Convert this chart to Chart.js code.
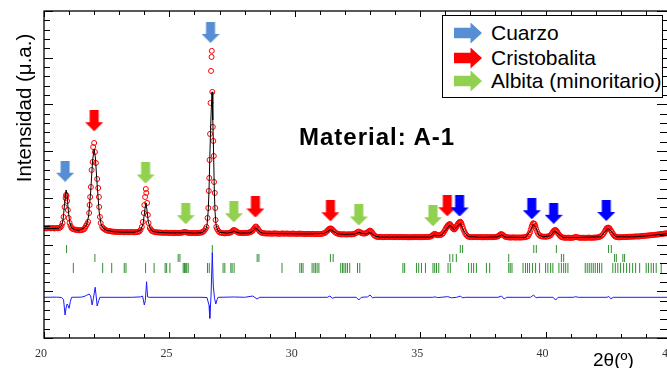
<!DOCTYPE html>
<html>
<head>
<meta charset="utf-8">
<title>Material A-1</title>
<script src="https://cdn.jsdelivr.net/npm/chart.js@4"></script>
<style>
  body { margin: 0; background: #fff; }
  #wrap { position: relative; width: 667px; height: 368px; overflow: hidden; background: #fff; }
  #xrd { position: absolute; left: 0; top: 0; }
  .txt { position: absolute; font-family: "Liberation Sans", Arial, sans-serif; color: #000; white-space: nowrap; }
  .ytitle { left: -56px; top: 96px; width: 160px; height: 24px; line-height: 24px; font-size: 20.5px; text-align: center; transform: rotate(-90deg); }
  .material { left: 299px; top: 125px; font-size: 24px; line-height: 24px; font-weight: bold; letter-spacing: 1px; }
  .xtitle { left: 593px; top: 350px; font-size: 19px; line-height: 19px; }
  .legend { position: absolute; left: 442px; top: 15px; width: 219px; height: 81px; border: 1px solid #000; background: #fff; }
  .row { position: absolute; left: 11px; height: 24px; line-height: 24px; font-size: 21px; }
  .arr { position: absolute; left: 0; top: 1.5px; width: 28px; height: 21px;
         clip-path: polygon(0 25%, 59% 25%, 59% 0, 100% 50%, 59% 100%, 59% 75%, 0 75%); }
  .lab { position: absolute; left: 37px; top: 0; }
</style>
</head>
<body>
<div id="wrap">
  <canvas id="xrd" width="672" height="368" style="width:672px;height:368px"></canvas>
  <div class="txt ytitle">Intensidad (μ.a.)</div>
  <div class="txt material">Material: A-1</div>
  <div class="txt xtitle">2θ(º)</div>
  <div class="legend">
    <div class="txt row" style="top:5px"><span class="arr" style="background:#558ed5"></span><span class="lab">Cuarzo</span></div>
    <div class="txt row" style="top:30px"><span class="arr" style="background:#ff0000"></span><span class="lab">Cristobalita</span></div>
    <div class="txt row" style="top:53px"><span class="arr" style="background:#92d050"></span><span class="lab">Albita (minoritario)</span></div>
  </div>
</div>
<script>
// ===============================
// Data (2theta in degrees, intensity in arbitrary counts)
// ===============================
const xLabels = [20, 25, 30, 35, 40, 45];

// observed pattern (red circles)
const observed = [
  [20.0,2355],[20.05,2350],[20.1,2345],[20.15,2352],[20.2,2360],[20.25,2348],[20.3,2350],[20.35,2355],[20.4,2345],[20.45,2350],
  [20.5,2355],[20.55,2348],[20.6,2355],[20.65,2366],[20.7,2398],[20.74,2462],[20.78,2591],[20.82,2805],[20.86,2997],[20.88,3062],
  [20.9,3040],[20.92,2933],[20.95,2740],[20.98,2569],[21.02,2462],[21.06,2398],[21.1,2355],[21.15,2334],[21.2,2323],[21.25,2318],
  [21.3,2315],[21.35,2310],[21.4,2305],[21.45,2308],[21.5,2310],[21.55,2318],[21.6,2330],[21.64,2360],[21.67,2398],[21.72,2441],
  [21.76,2485],[21.8,2676],[21.82,2848],[21.84,3019],[21.87,3233],[21.9,3597],[21.94,3768],[21.96,4089],[22.0,4175],[22.03,3982],
  [22.07,3747],[22.12,3404],[22.16,3211],[22.19,3019],[22.2,2805],[22.23,2591],[22.26,2462],[22.32,2377],[22.36,2350],[22.4,2334],
  [22.45,2315],[22.5,2302],[22.55,2295],[22.6,2291],[22.65,2285],[22.7,2280],[22.75,2278],[22.8,2275],[22.85,2272],[22.9,2270],
  [22.95,2268],[23.0,2265],[23.05,2270],[23.1,2272],[23.15,2265],[23.2,2262],[23.25,2268],[23.3,2270],[23.35,2262],[23.4,2265],
  [23.45,2270],[23.5,2268],[23.55,2265],[23.6,2262],[23.65,2268],[23.7,2270],[23.75,2272],[23.8,2280],[23.85,2312],[23.9,2377],
  [23.94,2484],[23.98,2676],[24.0,2848],[24.03,3019],[24.06,3190],[24.08,3105],[24.11,2891],[24.14,2634],[24.17,2462],[24.22,2355],
  [24.26,2320],[24.3,2291],[24.35,2280],[24.4,2270],[24.45,2265],[24.5,2262],[24.55,2260],[24.6,2258],[24.65,2256],[24.7,2255],
  [24.75,2252],[24.8,2250],[24.85,2255],[24.9,2255],[24.95,2250],[25.0,2248],[25.05,2250],[25.1,2252],[25.15,2248],[25.2,2245],
  [25.25,2252],[25.3,2250],[25.35,2246],[25.4,2248],[25.45,2252],[25.5,2255],[25.55,2262],[25.6,2270],[25.65,2265],[25.7,2258],
  [25.75,2252],[25.8,2248],[25.85,2246],[25.9,2245],[25.95,2250],[26.0,2250],[26.05,2248],[26.1,2245],[26.15,2250],[26.2,2250],
  [26.25,2255],[26.3,2262],[26.34,2275],[26.38,2291],[26.44,2334],[26.48,2377],[26.52,2570],[26.55,2783],[26.57,3148],[26.59,3426],
  [26.6,3811],[26.62,4368],[26.64,5032],[26.66,5717],[26.68,6016],[26.69,6146],[26.71,5268],[26.73,4518],[26.75,4218],[26.77,3897],
  [26.78,3340],[26.81,3105],[26.83,2783],[26.84,2526],[26.87,2377],[26.9,2334],[26.95,2291],[27.0,2262],[27.05,2255],[27.1,2248],
  [27.15,2244],[27.2,2240],[27.25,2242],[27.3,2245],[27.35,2248],[27.4,2250],[27.45,2262],[27.5,2280],[27.53,2300],[27.57,2312],
  [27.61,2305],[27.65,2290],[27.7,2270],[27.75,2255],[27.8,2250],[27.85,2248],[27.9,2246],[27.95,2245],[28.0,2248],[28.05,2250],
  [28.1,2252],[28.15,2255],[28.2,2262],[28.25,2270],[28.29,2285],[28.32,2300],[28.35,2322],[28.38,2345],[28.42,2375],[28.45,2388],
  [28.48,2372],[28.52,2345],[28.56,2312],[28.6,2280],[28.65,2260],[28.7,2248],[28.75,2244],[28.8,2240],[28.85,2238],[28.9,2235],
  [28.95,2236],[29.0,2238],[29.05,2235],[29.1,2232],[29.15,2238],[29.2,2240],[29.25,2236],[29.3,2235],[29.35,2232],[29.4,2230],
  [29.45,2235],[29.5,2238],[29.55,2234],[29.6,2232],[29.65,2235],[29.7,2236],[29.75,2232],[29.8,2230],[29.85,2233],[29.9,2235],
  [29.95,2234],[30.0,2232],[30.05,2230],[30.1,2228],[30.15,2232],[30.2,2235],[30.25,2232],[30.3,2230],[30.35,2228],[30.4,2225],
  [30.45,2228],[30.5,2230],[30.55,2228],[30.6,2226],[30.65,2228],[30.7,2230],[30.75,2227],[30.8,2225],[30.85,2226],[30.9,2228],
  [30.95,2226],[31.0,2225],[31.05,2228],[31.1,2232],[31.15,2240],[31.2,2250],[31.25,2270],[31.3,2295],[31.33,2315],[31.36,2330],
  [31.39,2340],[31.42,2345],[31.45,2340],[31.48,2330],[31.52,2310],[31.55,2290],[31.6,2268],[31.65,2245],[31.7,2235],[31.75,2225],
  [31.8,2220],[31.85,2218],[31.9,2220],[31.95,2222],[32.0,2218],[32.05,2215],[32.1,2218],[32.15,2220],[32.2,2219],[32.25,2218],
  [32.3,2222],[32.35,2225],[32.4,2235],[32.45,2250],[32.5,2268],[32.55,2280],[32.6,2265],[32.65,2250],[32.7,2240],[32.75,2235],
  [32.8,2238],[32.85,2245],[32.89,2260],[32.93,2275],[32.97,2290],[33.0,2300],[33.03,2290],[33.07,2270],[33.11,2240],[33.15,2205],
  [33.2,2185],[33.25,2170],[33.3,2163],[33.35,2160],[33.4,2162],[33.45,2165],[33.5,2160],[33.55,2158],[33.6,2160],[33.65,2163],
  [33.7,2162],[33.75,2160],[33.8,2162],[33.85,2165],[33.9,2160],[33.95,2158],[34.0,2160],[34.05,2162],[34.1,2160],[34.15,2158],
  [34.2,2160],[34.25,2163],[34.3,2160],[34.35,2158],[34.4,2159],[34.45,2160],[34.5,2158],[34.55,2155],[34.6,2158],[34.65,2160],
  [34.7,2159],[34.75,2158],[34.8,2160],[34.85,2162],[34.9,2160],[34.95,2157],[35.0,2158],[35.05,2160],[35.1,2159],[35.15,2158],
  [35.2,2160],[35.25,2163],[35.3,2164],[35.35,2165],[35.4,2170],[35.45,2180],[35.49,2195],[35.52,2210],[35.55,2222],[35.58,2230],
  [35.62,2220],[35.65,2205],[35.7,2200],[35.75,2200],[35.8,2205],[35.85,2215],[35.89,2232],[35.92,2250],[35.96,2285],[36.0,2320],
  [36.03,2350],[36.06,2380],[36.09,2400],[36.12,2420],[36.15,2432],[36.18,2440],[36.21,2420],[36.24,2400],[36.27,2370],[36.3,2345],
  [36.33,2330],[36.36,2325],[36.39,2340],[36.42,2360],[36.45,2390],[36.48,2420],[36.51,2445],[36.54,2465],[36.57,2480],[36.6,2490],
  [36.63,2465],[36.66,2430],[36.69,2380],[36.72,2330],[36.76,2280],[36.8,2230],[36.85,2200],[36.9,2175],[36.95,2165],[37.0,2160],
  [37.05,2159],[37.1,2158],[37.15,2160],[37.2,2162],[37.25,2160],[37.3,2158],[37.35,2159],[37.4,2160],[37.45,2158],[37.5,2155],
  [37.55,2158],[37.6,2160],[37.65,2158],[37.7,2157],[37.75,2158],[37.8,2160],[37.85,2159],[37.9,2158],[37.95,2160],[38.0,2163],
  [38.05,2168],[38.1,2175],[38.14,2192],[38.18,2210],[38.21,2220],[38.24,2225],[38.28,2212],[38.32,2195],[38.36,2180],[38.4,2165],
  [38.45,2160],[38.5,2155],[38.55,2152],[38.6,2150],[38.65,2152],[38.7,2155],[38.75,2152],[38.8,2150],[38.85,2151],[38.9,2153],
  [38.95,2151],[39.0,2150],[39.05,2152],[39.1,2155],[39.15,2157],[39.2,2160],[39.25,2168],[39.3,2180],[39.34,2220],[39.38,2260],
  [39.41,2320],[39.44,2380],[39.47,2420],[39.5,2456],[39.53,2452],[39.56,2440],[39.59,2395],[39.62,2340],[39.66,2280],[39.7,2230],
  [39.75,2200],[39.8,2180],[39.85,2175],[39.9,2170],[39.95,2169],[40.0,2168],[40.05,2170],[40.1,2175],[40.15,2185],[40.2,2200],
  [40.24,2230],[40.28,2260],[40.31,2282],[40.34,2300],[40.37,2308],[40.4,2312],[40.43,2295],[40.46,2275],[40.5,2240],[40.54,2210],
  [40.58,2185],[40.62,2165],[40.66,2157],[40.7,2150],[40.75,2147],[40.8,2145],[40.85,2146],[40.9,2148],[40.95,2145],[41.0,2142],
  [41.05,2145],[41.1,2148],[41.15,2155],[41.2,2165],[41.25,2158],[41.3,2150],[41.35,2148],[41.4,2145],[41.45,2146],[41.5,2148],
  [41.55,2145],[41.6,2143],[41.65,2146],[41.7,2150],[41.75,2148],[41.8,2145],[41.85,2146],[41.9,2148],[41.95,2149],[42.0,2150],
  [42.05,2154],[42.1,2158],[42.15,2165],[42.2,2175],[42.25,2198],[42.3,2225],[42.34,2262],[42.38,2300],[42.41,2328],[42.44,2350],
  [42.47,2358],[42.5,2362],[42.53,2352],[42.56,2340],[42.6,2305],[42.64,2270],[42.68,2235],[42.72,2200],[42.76,2180],[42.8,2165],
  [42.85,2160],[42.9,2155],[42.95,2156],[43.0,2158],[43.05,2159],[43.1,2160],[43.15,2161],[43.2,2162],[43.25,2163],[43.3,2165],
  [43.35,2166],[43.4,2168],[43.45,2169],[43.5,2170],[43.55,2172],[43.6,2175],[43.65,2174],[43.7,2172],[43.75,2176],[43.8,2180],
  [43.85,2182],[43.9,2185],[43.95,2188],[44.0,2190],[44.05,2192],[44.1,2195],[44.15,2198],[44.2,2200],[44.25,2202],[44.3,2205],
  [44.35,2208],[44.4,2212],[44.45,2215],[44.5,2218],[44.55,2222],[44.6,2225],[44.65,2228],[44.7,2232],[44.75,2236],[44.8,2240],
  [44.85,2242],[44.9,2245],[44.95,2248],[45.0,2250]
];

// calculated pattern (black line)
const calculated = [
  [20.0,2345],[20.5,2345],[20.6,2350],[20.7,2398],[20.76,2526],[20.82,2869],[20.88,3169],[20.92,3083],[20.96,2783],[21.02,2484],
  [21.1,2355],[21.2,2323],[21.4,2305],[21.6,2355],[21.7,2419],[21.78,2612],[21.86,3126],[21.94,3811],[22.0,4047],[22.05,3854],
  [22.12,3276],[22.2,2698],[22.28,2419],[22.4,2334],[22.5,2302],[22.8,2275],[23.2,2265],[23.6,2265],[23.85,2302],[23.95,2441],
  [24.02,2741],[24.06,2891],[24.1,2762],[24.16,2484],[24.25,2323],[24.35,2280],[24.6,2258],[25.0,2250],[25.5,2250],[25.6,2262],
  [25.7,2252],[26.0,2245],[26.3,2255],[26.4,2291],[26.46,2334],[26.5,2419],[26.55,2741],[26.58,3169],[26.62,4026],[26.66,4774],
  [26.7,5268],[26.73,4668],[26.76,4026],[26.79,3169],[26.82,2698],[26.86,2419],[26.92,2312],[27.0,2262],[27.3,2245],[27.5,2265],
  [27.57,2290],[27.65,2270],[27.8,2245],[28.2,2250],[28.3,2275],[28.38,2320],[28.45,2350],[28.52,2320],[28.62,2262],[28.75,2240],
  [29.5,2235],[30.5,2228],[31.2,2240],[31.3,2280],[31.42,2320],[31.55,2280],[31.7,2230],[32.0,2218],[32.4,2225],[32.55,2262],
  [32.7,2235],[32.85,2230],[32.95,2250],[33.05,2245],[33.2,2180],[33.4,2160],[35.4,2160],[35.55,2200],[35.65,2190],[35.85,2200],
  [36.0,2300],[36.18,2415],[36.36,2320],[36.6,2455],[36.75,2280],[36.9,2170],[37.5,2155],[38.1,2165],[38.24,2210],[38.4,2158],
  [39.2,2152],[39.4,2300],[39.5,2430],[39.6,2380],[39.72,2210],[39.9,2165],[40.2,2190],[40.36,2290],[40.5,2230],[40.7,2150],
  [41.2,2150],[42.2,2165],[42.35,2270],[42.5,2345],[42.62,2280],[42.8,2165],[43.5,2165],[44.0,2185],[44.5,2212],[45.0,2245]
];

// difference curve (blue line)
const difference = [
  [20.0,871],[20.5,875],[20.7,868],[20.78,820],[20.84,492],[20.88,640],[20.92,728],[20.96,700],[21.0,636],[21.05,780],
  [21.1,871],[21.5,875],[21.65,900],[21.72,921],[21.8,942],[21.86,900],[21.92,707],[21.97,850],[22.04,1086],[22.08,900],
  [22.12,685],[22.18,800],[22.23,871],[23.5,871],[23.85,880],[23.93,899],[24.0,707],[24.04,800],[24.09,1205],[24.13,880],
  [24.2,871],[26.3,871],[26.5,865],[26.58,700],[26.61,422],[26.66,900],[26.71,1826],[26.75,1113],[26.8,850],[26.85,728],
  [26.9,820],[26.94,871],[27.6,878],[28.0,871],[28.33,899],[28.49,835],[28.6,871],[31.3,871],[31.4,899],[31.5,850],
  [31.6,871],[32.45,871],[32.55,813],[32.65,871],[32.9,880],[33.0,921],[33.1,860],[33.2,871],[35.5,871],[35.6,880],
  [35.7,865],[36.1,885],[36.25,860],[36.45,871],[36.6,895],[36.7,860],[36.8,871],[38.1,871],[38.24,899],[38.35,835],
  [38.45,871],[39.4,871],[39.52,921],[39.62,860],[39.7,871],[40.3,871],[40.4,813],[40.5,871],[41.1,871],[41.2,884],
  [41.3,871],[42.45,871],[42.52,890],[42.6,840],[42.7,871],[45.0,871]
];

// reflection positions (green tick rows)
const quartzTicks = [20.90, 26.71, 36.60, 36.69, 39.53, 39.63, 40.43, 42.51, 42.62];
const cristobaliteTicks = [22.03, 25.35, 25.42, 28.50, 28.57, 31.42, 31.53, 36.18, 36.30, 36.44, 38.53, 40.63, 40.72, 42.75, 42.82, 43.08, 43.15];
const albiteTicks = [
  21.17, 22.34, 22.70, 23.20, 23.27, 24.05, 24.39, 24.83, 24.89, 25.02, 25.55, 25.60, 25.65, 25.69, 25.75,
  26.52, 26.59, 27.14, 27.21, 27.45, 27.50, 27.58, 29.49, 30.20, 30.27, 30.33, 30.69, 30.76, 30.82, 30.89, 30.96,
  31.83, 31.90, 31.96, 32.03, 32.10, 32.19, 32.50, 32.59, 34.31, 34.38, 34.85, 34.94, 35.05, 35.21, 35.51, 35.58,
  35.65, 35.74, 36.11, 36.20, 36.93, 37.04, 37.13, 37.24, 37.64, 37.77, 38.53, 38.59, 38.66, 39.10, 39.20, 39.28,
  39.36, 39.48, 39.60, 39.76, 40.00, 40.09, 40.20, 40.29, 40.53, 40.63, 40.72, 40.80, 40.89, 41.58, 41.66, 41.74,
  41.82, 41.90, 41.98, 42.07, 42.15, 42.24, 42.68, 42.78, 42.88, 42.99, 43.11, 43.23, 43.35, 43.47, 43.59, 43.75,
  44.01, 44.10, 44.21, 44.30, 44.41, 44.61
];
const quartzRow = 1905;
const cristobaliteRow = 1713;
const albiteRow = 1499;

// phase markers (2theta, height of the arrow)
const quartzArrowsLight = [[20.84, 3570], [26.64, 6542]];
const quartzArrows = [[36.57, 2827], [39.45, 2767], [40.32, 2670], [42.42, 2730]];
const cristobaliteArrows = [[22.0, 4651], [28.43, 2805], [31.42, 2724], [36.08, 2831]];
const albiteArrows = [[24.05, 3533], [25.65, 2662], [27.57, 2702], [32.55, 2634], [35.51, 2617]];

// ===============================
// Helpers
// ===============================
const toXY = arr => arr.map(p => ({ x: p[0], y: p[1] }));
const onRow = (arr, y) => arr.map(x => ({ x: x, y: y }));

function downArrow(color) {
  const c = document.createElement("canvas");
  c.width = 18;
  c.height = 21;
  const g = c.getContext("2d");
  g.fillStyle = color;
  g.beginPath();
  g.moveTo(4.5, 0);
  g.lineTo(13.5, 0);
  g.lineTo(13.5, 12);
  g.lineTo(18, 12);
  g.lineTo(9, 21);
  g.lineTo(0, 12);
  g.lineTo(4.5, 12);
  g.closePath();
  g.fill();
  return c;
}

function arrowSet(data, color) {
  return {
    data: toXY(data),
    pointStyle: downArrow(color),
    pointRadius: 10,
    showLine: false
  };
}

function tickSet(data, y, half) {
  return {
    data: onRow(data, y),
    pointStyle: "line",
    rotation: 90,
    pointRadius: half,
    pointBorderColor: "#2f8f2f",
    pointBorderWidth: 1,
    showLine: false
  };
}

// frame with inward ticks on all four sides
const frameTicks = {
  id: "frameTicks",
  afterDatasetsDraw(chart) {
    const { ctx, chartArea: a, scales } = chart;
    const x = scales.x, y = scales.y;
    ctx.save();
    ctx.strokeStyle = "#000";
    ctx.lineWidth = 1;
    ctx.beginPath();
    x.ticks.forEach(t => {
      const px = Math.round(x.getPixelForValue(t.value)) + 0.5;
      const len = t.value % 5 === 0 ? 6 : 4;
      ctx.moveTo(px, a.bottom);
      ctx.lineTo(px, a.bottom - len);
      ctx.moveTo(px, a.top);
      ctx.lineTo(px, a.top + len);
    });
    y.ticks.forEach(t => {
      const py = Math.round(y.getPixelForValue(t.value)) + 0.5;
      const major = t.value % 1000 === 0;
      ctx.moveTo(a.left, py);
      ctx.lineTo(a.left + (major ? 9 : 6), py);
      ctx.moveTo(a.right, py);
      ctx.lineTo(a.right - (major ? 14 : 11), py);
    });
    ctx.stroke();
    ctx.lineWidth = 1.3;
    ctx.strokeRect(a.left, a.top, a.right - a.left, a.bottom - a.top);
    ctx.restore();
  }
};

// ===============================
// Chart
// ===============================
new Chart(document.getElementById("xrd"), {
  type: "scatter",
  data: {
    datasets: [
      arrowSet(quartzArrowsLight, "#558ed5"),
      arrowSet(quartzArrows, "#0000ff"),
      arrowSet(cristobaliteArrows, "#ff0000"),
      arrowSet(albiteArrows, "#92d050"),
      {
        data: toXY(calculated),
        showLine: true,
        borderColor: "#000",
        borderWidth: 1,
        pointRadius: 0
      },
      {
        data: toXY(observed),
        showLine: false,
        pointStyle: "circle",
        pointRadius: 2.5,
        pointBorderWidth: 1,
        pointBorderColor: "#ff0000",
        pointBackgroundColor: "rgba(255,255,255,0)"
      },
      {
        data: toXY(difference),
        showLine: true,
        borderColor: "#1a1aff",
        borderWidth: 1,
        pointRadius: 0
      },
      tickSet(quartzTicks, quartzRow, 4),
      tickSet(cristobaliteTicks, cristobaliteRow, 4),
      tickSet(albiteTicks, albiteRow, 5)
    ]
  },
  options: {
    responsive: false,
    animation: false,
    events: [],
    layout: { autoPadding: false, padding: { top: 11, right: 1, left: 0, bottom: 0 } },
    plugins: {
      legend: { display: false },
      tooltip: { enabled: false }
    },
    scales: {
      x: {
        type: "linear",
        min: 20,
        max: 45,
        grid: { display: false, drawTicks: false },
        border: { display: false },
        ticks: {
          stepSize: 1,
          autoSkip: false,
          maxRotation: 0,
          padding: 9,
          labelOffset: -3,
          color: "#333",
          font: { family: "'Liberation Serif', 'Times New Roman', serif", size: 12 },
          callback: v => xLabels.includes(v) ? String(v) : ""
        },
        afterFit(scale) {
          scale.height = 30;
          scale.paddingLeft = 0;
          scale.paddingRight = 0;
        }
      },
      y: {
        type: "linear",
        min: 0,
        max: 7000,
        grid: { display: false, drawTicks: false },
        border: { display: false },
        ticks: { stepSize: 200, display: false },
        afterFit(scale) {
          scale.width = 44;
          scale.paddingTop = 0;
          scale.paddingBottom = 0;
        }
      }
    }
  },
  plugins: [frameTicks]
});
</script>
</body>
</html>
